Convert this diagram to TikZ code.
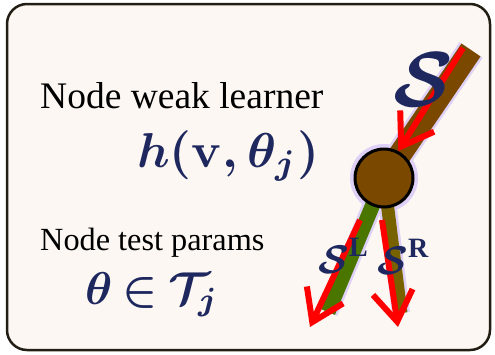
\documentclass[tikz,border=0pt]{standalone}
\usepackage{amsmath}
\usepackage{graphicx}
\usepackage{fontspec}
\setmainfont{Liberation Serif}
\usetikzlibrary{arrows.meta}
\definecolor{paper}{RGB}{252,247,242}
\definecolor{rim}{RGB}{35,30,20}
\definecolor{ink}{RGB}{30,40,95}
\definecolor{nodebrown}{RGB}{123,72,0}
\definecolor{leftgreen}{RGB}{74,118,0}
\definecolor{rightolive}{RGB}{120,98,0}
\definecolor{glow}{RGB}{222,208,246}
\newcommand{\bigmath}[2]{\scalebox{#1}{$#2$}}

\begin{document}
\begin{tikzpicture}[
  x=1pt, y=-1pt,
  plaintext/.style={
    anchor=base west, inner sep=0pt,
    font=\fontsize{37.5}{42}\selectfont
  },
  formula/.style={anchor=base west, inner sep=0pt, text=ink},
  setname/.style={inner sep=0pt, text=ink},
  stick/.style={line width=#1, line cap=butt},
  halo/.style={draw=glow, line width=#1},
  flow/.style={draw=red, line width=6pt,
    -{Straight Barb[length=30pt, width=40pt]}}
]

\useasboundingbox (0,0) rectangle (495,354);

% ── Frame ──
\draw[rim, line width=2.5pt, fill=paper, rounded corners=20pt] (7,4) rectangle (490,350);

% ── Text on the left ──
\node[plaintext] (weak) at (40,108) {Node weak learner};
\node[formula] (hfun) at (137,167) {\bigmath{4.9}{\boldsymbol{h(\mathbf{v},\theta_j)}}};
\node[plaintext, font=\fontsize{32.3}{37}\selectfont] (testp) at (40,250) {Node test params};
\node[formula] (theta) at (85,304) {\bigmath{4.6}{\boldsymbol{\theta\mskip-1.5mu\in\mskip-1.5mu\mathcal{T}_j}}};

% ── Split node and its edges ──
\coordinate (hub) at (384,178);
\coordinate (top) at (471,50);
\coordinate (lend) at (328,312);
\coordinate (rend) at (401,313);

\draw[halo=28pt] (hub) -- (top);
\draw[halo=20pt] (hub) -- (lend);
\draw[halo=18pt] (hub) -- (rend);
\fill[glow] (hub) circle (34);

\draw[stick=23pt, draw=nodebrown] (hub) -- (top);
\draw[stick=15pt, draw=leftgreen] (hub) -- (lend);
\draw[stick=13pt, draw=rightolive] (hub) -- (rend);

\node[circle, draw=black, line width=3pt, fill=nodebrown, minimum size=58pt] (split) at (hub) {};

% ── Data flow arrows ──
\coordinate (inflow) at (463,48);
\coordinate (lstart) at (360,220);
\coordinate (rstart) at (382,220);
\coordinate (ltip) at (310,327);
\coordinate (rtip) at (398,327);
\draw[flow] (inflow) -- (split.62);
\draw[flow] (lstart) -- (ltip);
\draw[flow] (rstart) -- (rtip);

% ── Set labels ──
\node[setname] (sall) at (423,80) {\bigmath{7.8}{\boldsymbol{\mathcal{S}}}};
\node[setname] (sleft) at (344,256) {\bigmath{4}{\boldsymbol{\mathcal{S}}^{\mathbf{L}}}};
\node[setname] (sright) at (404,257) {\bigmath{4}{\boldsymbol{\mathcal{S}}^{\mathbf{R}}}};

\end{tikzpicture}
\end{document}
